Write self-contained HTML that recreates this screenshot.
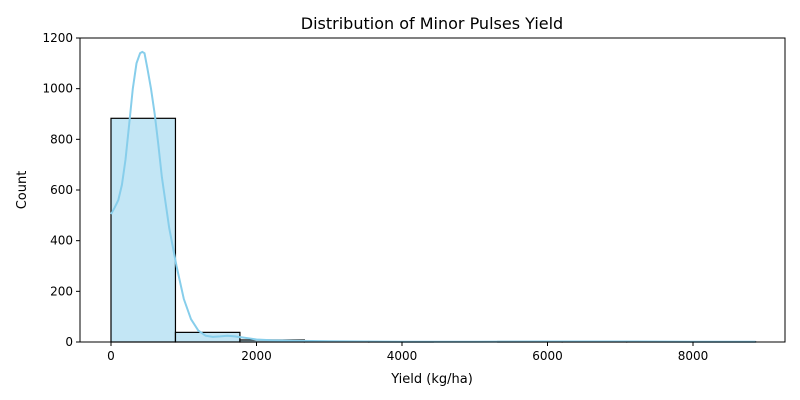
<!DOCTYPE html>
<html><head><meta charset="utf-8"><style>body{margin:0;background:#fff}svg{display:block;font-family:"DejaVu Sans","Liberation Sans",sans-serif}</style></head>
<body>
<svg id="chart" width="800" height="400" viewBox="0 0 800 400" xmlns="http://www.w3.org/2000/svg">
<text x="432" y="29" text-anchor="middle" font-size="16">Distribution of Minor Pulses Yield</text>
<text x="432" y="383" text-anchor="middle" font-size="13">Yield (kg/ha)</text>
<text transform="translate(26,190) rotate(-90)" text-anchor="middle" font-size="13">Count</text>
<g id="bars"></g><g id="kde"></g><g id="axes"></g>
</svg>
<script>
const binEdges = [0,886,1772,2658,3544,4430,5316,6202,7088,7974,8860];
const binCounts = [883,38,8,3,1,0,2,2,1,1];
const kdeX = [0,50,100,150,200,250,300,350,400,430,460,500,550,600,650,700,800,900,1000,1100,1200,1300,1400,1500,1600,1700,1800,2000,2200,2500,3000,3500,4000,5000,6000,7000,8000,8860];
const kdeY = [505,530,560,620,720,860,1000,1100,1140,1145,1140,1080,1000,900,780,650,450,300,170,90,45,25,20,22,25,22,18,10,7,5,3,2,1,1,2,2,1,1];
const xTicks = [0,2000,4000,6000,8000];
const yTicks = [0,200,400,600,800,1000,1200];
const L=80,R=785,T=38,B=342;
const xs=v=>111+v*(693-111)/8000;
const ys=v=>B-v*(B-T)/1200;
const NS="http://www.w3.org/2000/svg";
function mk(t,a,p){const e=document.createElementNS(NS,t);for(const k in a)e.setAttribute(k,a[k]);p.appendChild(e);return e;}
const bars=document.getElementById('bars');
binCounts.forEach((c,i)=>{
 const r=mk('rect',{x:xs(binEdges[i]),y:ys(c),width:xs(binEdges[i+1])-xs(binEdges[i]),height:B-ys(c),fill:'rgba(135,206,235,0.5)',stroke:'#000','stroke-width':1.2},bars);
 
 
});
const kde=document.getElementById('kde');
const p=mk('path',{d:kdeX.map((x,i)=>(i?'L':'M')+xs(x).toFixed(1)+','+ys(kdeY[i]).toFixed(1)).join(''),fill:'none',stroke:'#87ceeb','stroke-width':2},kde);


const ax=document.getElementById('axes');
const fr=mk('rect',{x:L,y:T,width:R-L,height:B-T,fill:'none',stroke:'#000','stroke-width':1},ax);


xTicks.forEach(v=>{
 mk('line',{x1:xs(v),x2:xs(v),y1:B,y2:B+4,stroke:'#000'},ax);
 const t=mk('text',{x:xs(v),y:B+18,'text-anchor':'middle','font-size':12},ax);t.textContent=v;
 
 
});
yTicks.forEach(v=>{
 mk('line',{x1:L-4,x2:L,y1:ys(v),y2:ys(v),stroke:'#000'},ax);
 const t=mk('text',{x:L-7,y:ys(v)+4,'text-anchor':'end','font-size':12},ax);t.textContent=v;
 
 
});
</script>
</body></html>
